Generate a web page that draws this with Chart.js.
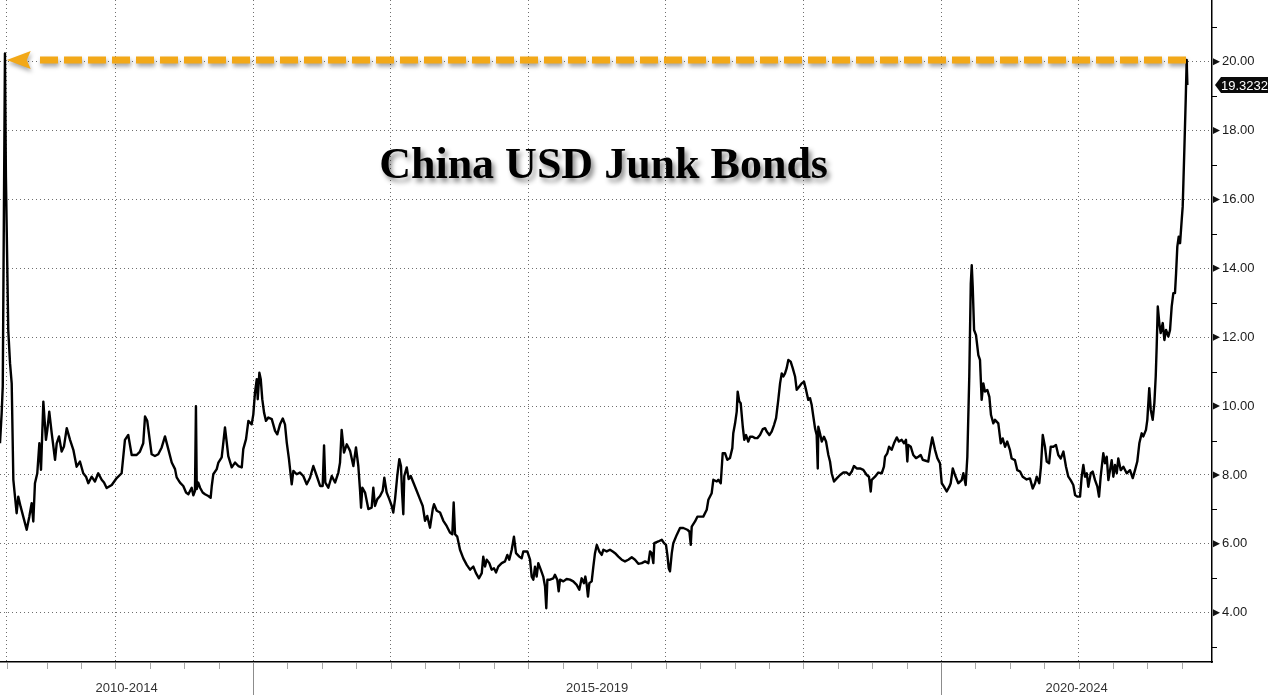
<!DOCTYPE html>
<html lang="en">
<head>
<meta charset="UTF-8">
<title>China USD Junk Bonds</title>
<script src="https://cdn.jsdelivr.net/npm/chart.js"></script>
<style>
    body { margin: 0; padding: 0; background: #fff; }
    #wrap { width: 1268px; height: 695px; }
</style>
</head>
<body>
<div id="wrap"><canvas id="chart" width="1268" height="695"></canvas></div>
<script>
// dates as decimal years, yields in %
const dates = [
    2013.161, 2013.173, 2013.181, 2013.197, 2013.204, 2013.221, 2013.234, 2013.246, 2013.258, 2013.270,
    2013.282, 2013.294, 2013.311, 2013.330, 2013.355, 2013.374, 2013.391, 2013.403, 2013.415, 2013.432,
    2013.447, 2013.459, 2013.476, 2013.495, 2013.505, 2013.519, 2013.537, 2013.561, 2013.573, 2013.590,
    2013.609, 2013.626, 2013.646, 2013.670, 2013.694, 2013.718, 2013.742, 2013.766, 2013.786, 2013.803,
    2013.827, 2013.851, 2013.875, 2013.900, 2013.917, 2013.936, 2013.973, 2014.009, 2014.045, 2014.069,
    2014.093, 2014.118, 2014.154, 2014.178, 2014.202, 2014.215, 2014.231,
    2014.263, 2014.287, 2014.311, 2014.336, 2014.360, 2014.384, 2014.409, 2014.433, 2014.445, 2014.469,
    2014.493, 2014.513, 2014.530, 2014.554, 2014.566, 2014.578, 2014.585, 2014.591, 2014.602, 2014.615,
    2014.634, 2014.651, 2014.675, 2014.692, 2014.700, 2014.711, 2014.736, 2014.748, 2014.772, 2014.784,
    2014.796, 2014.809, 2014.820, 2014.845, 2014.869, 2014.893, 2014.918, 2014.929, 2014.949, 2014.966,
    2014.990, 2015.002, 2015.014, 2015.027, 2015.034, 2015.046, 2015.056, 2015.067, 2015.080, 2015.094,
    2015.111, 2015.136, 2015.160, 2015.176, 2015.196, 2015.216, 2015.232, 2015.245, 2015.261, 2015.281,
    2015.293, 2015.317, 2015.341, 2015.365, 2015.390, 2015.414, 2015.438, 2015.463, 2015.487, 2015.506,
    2015.516, 2015.525, 2015.547, 2015.572, 2015.596, 2015.620, 2015.632, 2015.644, 2015.661, 2015.681,
    2015.705, 2015.729, 2015.748, 2015.765, 2015.777, 2015.785, 2015.794, 2015.814, 2015.838, 2015.862,
    2015.874, 2015.886, 2015.903, 2015.923, 2015.942, 2015.954, 2015.971, 2015.990, 2016.008, 2016.019,
    2016.032, 2016.048, 2016.063, 2016.075, 2016.083, 2016.092, 2016.099, 2016.117, 2016.131, 2016.146,
    2016.165, 2016.189, 2016.213, 2016.233, 2016.250, 2016.266, 2016.286, 2016.306, 2016.315, 2016.335,
    2016.359, 2016.383, 2016.407, 2016.431, 2016.448, 2016.458, 2016.468, 2016.484,
    2016.504, 2016.528, 2016.553, 2016.577, 2016.601, 2016.620, 2016.642, 2016.662, 2016.673, 2016.686,
    2016.698, 2016.717, 2016.734, 2016.751, 2016.766, 2016.782, 2016.807, 2016.831, 2016.848, 2016.862,
    2016.880, 2016.896, 2016.911, 2016.935, 2016.952, 2016.964, 2016.993, 2017.013, 2017.025, 2017.037,
    2017.049, 2017.061, 2017.073, 2017.091, 2017.109, 2017.122, 2017.131, 2017.139, 2017.158, 2017.182,
    2017.194, 2017.211, 2017.221, 2017.231, 2017.255, 2017.279, 2017.303, 2017.327, 2017.352, 2017.371,
    2017.388, 2017.405, 2017.415, 2017.425, 2017.434, 2017.444, 2017.461, 2017.473, 2017.485, 2017.498,
    2017.516, 2017.534, 2017.546, 2017.570, 2017.594, 2017.614, 2017.631, 2017.655, 2017.679, 2017.703,
    2017.727, 2017.752, 2017.776, 2017.800, 2017.825, 2017.849, 2017.873, 2017.885, 2017.897, 2017.909,
    2017.916, 2017.945, 2017.970, 2017.987, 2018.001, 2018.011, 2018.021, 2018.030, 2018.043, 2018.054,
    2018.079, 2018.103, 2018.127, 2018.156, 2018.171, 2018.181, 2018.188, 2018.212, 2018.229, 2018.248,
    2018.272, 2018.297,
    2018.309, 2018.333, 2018.345, 2018.370, 2018.381, 2018.399, 2018.413, 2018.430, 2018.447, 2018.466,
    2018.483, 2018.490, 2018.503, 2018.515, 2018.522, 2018.534, 2018.544, 2018.559, 2018.570, 2018.583,
    2018.599, 2018.612, 2018.631, 2018.648, 2018.665, 2018.684, 2018.704, 2018.721, 2018.733, 2018.752,
    2018.769, 2018.786, 2018.801, 2018.817, 2018.830, 2018.842, 2018.854, 2018.866, 2018.878, 2018.890,
    2018.907, 2018.922, 2018.939, 2018.951, 2018.970, 2018.987, 2019.004, 2019.019, 2019.035, 2019.048,
    2019.060, 2019.072, 2019.084, 2019.096, 2019.104, 2019.108, 2019.120, 2019.133, 2019.149, 2019.164,
    2019.181, 2019.193, 2019.205, 2019.222, 2019.242, 2019.266, 2019.290, 2019.314, 2019.333, 2019.351,
    2019.367, 2019.387, 2019.411, 2019.435, 2019.460, 2019.476, 2019.489, 2019.496, 2019.520, 2019.544,
    2019.569, 2019.585, 2019.593, 2019.609, 2019.622, 2019.641, 2019.658, 2019.678, 2019.694, 2019.714,
    2019.731, 2019.745, 2019.755, 2019.762, 2019.780, 2019.798, 2019.818, 2019.835, 2019.852, 2019.867,
    2019.883, 2019.907, 2019.920, 2019.936, 2019.956, 2019.973, 2019.992, 2020.005, 2020.021, 2020.041,
    2020.060, 2020.070, 2020.085, 2020.101, 2020.125,
    2020.150, 2020.162, 2020.179, 2020.191, 2020.205, 2020.216, 2020.223, 2020.230, 2020.240, 2020.254,
    2020.271, 2020.283, 2020.295, 2020.307, 2020.319, 2020.336, 2020.351, 2020.363, 2020.380, 2020.392,
    2020.416, 2020.434, 2020.448, 2020.465, 2020.481, 2020.501, 2020.513, 2020.537, 2020.554, 2020.574,
    2020.593, 2020.622, 2020.646, 2020.666, 2020.683, 2020.695, 2020.714, 2020.726, 2020.739, 2020.755,
    2020.768, 2020.785, 2020.797, 2020.816, 2020.835, 2020.852, 2020.870, 2020.889, 2020.908, 2020.925,
    2020.942, 2020.961, 2020.974, 2020.990, 2021.010, 2021.022, 2021.034, 2021.046, 2021.059, 2021.070,
    2021.088, 2021.102, 2021.119, 2021.136, 2021.148, 2021.160, 2021.179, 2021.192, 2021.204, 2021.216,
    2021.228, 2021.240, 2021.252, 2021.264, 2021.277, 2021.288, 2021.306, 2021.325, 2021.349, 2021.373,
    2021.393, 2021.410, 2021.426, 2021.441, 2021.458, 2021.470, 2021.489, 2021.499, 2021.513, 2021.524,
    2021.538, 2021.550, 2021.560, 2021.567, 2021.575, 2021.586, 2021.596, 2021.611, 2021.623, 2021.635,
    2021.652, 2021.664, 2021.676, 2021.688, 2021.700, 2021.708, 2021.717, 2021.727, 2021.737, 2021.749,
    2021.756, 2021.761, 2021.768, 2021.778, 2021.785, 2021.790
];
const yields = [
    8.92, 9.79, 10.57, 20.24, 16.66, 12.21, 11.24, 10.66, 7.86, 7.37,
    6.89, 7.37, 7.08, 6.79, 6.41, 6.79, 7.18, 6.65, 7.76, 8.05,
    8.92, 8.15, 10.13, 9.02, 9.31, 9.84, 9.21, 8.44, 8.92, 9.12,
    8.68, 8.83, 9.36, 9.02, 8.73, 8.24, 8.39, 8.05, 7.95, 7.76,
    7.95, 7.81, 8.05, 7.86, 7.78, 7.62, 7.71, 7.91, 8.05, 9.02,
    9.16, 8.58, 8.58, 8.68, 8.92, 9.70, 9.57,
    8.60, 8.55, 8.60, 8.80, 9.12, 8.75, 8.36, 8.17, 7.93, 7.78,
    7.68, 7.49, 7.44, 7.63, 7.41, 7.54, 10.00, 7.59, 7.78, 7.63,
    7.49, 7.44, 7.39, 7.34, 7.68, 8.02, 8.17, 8.36, 8.51, 8.94,
    9.38, 8.94, 8.55, 8.22, 8.36, 8.26, 8.22, 8.75, 9.04, 9.57,
    9.47, 9.76, 10.39, 10.78, 10.20, 10.97, 10.78, 10.20, 9.81, 9.57,
    9.67, 9.62, 9.28, 9.18, 9.47, 9.64, 9.47, 8.94, 8.46, 7.73,
    8.12, 8.02, 8.07, 7.97, 7.73, 7.92, 8.26, 7.97, 7.68, 7.68,
    8.86, 7.78, 7.63, 7.97, 7.78, 8.07, 8.36, 9.31, 8.65, 8.89,
    8.70, 8.26, 8.80, 8.26, 7.59, 7.05, 7.63, 7.49, 7.01, 7.05,
    7.63, 7.10, 7.30, 7.39, 7.54, 7.92, 7.49, 7.30, 7.10, 6.91,
    7.30, 7.97, 8.46, 8.26, 7.49, 6.86, 7.97, 8.22, 7.88, 7.97,
    7.78, 7.54, 7.30, 7.10, 6.67, 6.81, 6.47, 7.01, 7.15, 6.96,
    6.91, 6.67, 6.52, 6.33, 6.28, 7.20, 6.28, 6.21,
    5.83, 5.58, 5.39, 5.25, 5.34, 5.15, 5.00, 5.15, 5.63, 5.34,
    5.54, 5.44, 5.25, 5.29, 5.17, 5.34, 5.44, 5.49, 5.68, 5.54,
    5.83, 6.21, 5.73, 5.63, 5.58, 5.78, 5.78, 5.54, 5.05, 4.96,
    5.34, 5.05, 5.44, 5.25, 5.05, 4.76, 4.13, 4.96, 4.96, 5.00,
    5.10, 4.96, 4.62, 4.96, 4.91, 4.98, 4.96, 4.91, 4.81, 4.67,
    5.00, 4.86, 5.05, 4.81, 4.47, 4.86, 4.91, 5.34, 5.73, 5.97,
    5.78, 5.68, 5.83, 5.78, 5.83, 5.78, 5.73, 5.63, 5.54, 5.49,
    5.54, 5.61, 5.54, 5.42, 5.44, 5.49, 5.44, 5.78, 5.73, 5.44,
    6.02, 6.07, 6.12, 6.02, 5.97, 5.68, 5.29, 5.20, 5.73, 6.02,
    6.26, 6.46, 6.46, 6.41, 6.36, 5.97, 6.50, 6.65, 6.79, 6.79,
    6.79, 6.99,
    7.28, 7.47, 7.86, 7.81, 7.86, 7.76, 8.63, 8.63, 8.44, 8.49,
    8.78, 9.21, 9.50, 9.84, 10.42, 10.13, 10.08, 9.40, 9.02, 9.16,
    8.97, 9.11, 9.11, 9.07, 9.07, 9.16, 9.33, 9.36, 9.26, 9.16,
    9.26, 9.45, 9.65, 10.18, 10.66, 10.95, 10.86, 10.95, 11.10, 11.34,
    11.29, 11.10, 10.86, 10.47, 10.57, 10.66, 10.71, 10.47, 10.18, 10.23,
    10.03, 9.69, 9.36, 9.16, 8.19, 9.40, 9.21, 8.97, 9.11, 8.97,
    8.58, 8.39, 8.05, 7.81, 7.90, 8.00, 8.07, 8.07, 8.00, 8.10,
    8.26, 8.19, 8.19, 8.15, 8.00, 7.95, 7.52, 7.86, 7.95, 8.07,
    8.05, 8.24, 8.53, 8.63, 8.82, 8.73, 8.92, 9.09, 8.97, 9.02,
    8.92, 9.02, 8.39, 8.87, 8.82, 8.58, 8.49, 8.53, 8.58, 8.44,
    8.42, 8.39, 8.73, 9.09, 8.73, 8.49, 8.34, 7.76, 7.66, 7.52,
    7.66, 7.76, 8.19, 8.00, 7.76,
    7.85, 8.05, 7.71, 8.53, 10.85, 13.56, 14.09, 13.47, 12.21, 12.06,
    11.48, 11.34, 10.18, 10.66, 10.42, 10.47, 10.27, 9.74, 9.50, 9.60,
    9.50, 8.92, 9.06, 8.82, 8.97, 8.72, 8.48, 8.43, 8.14, 8.10,
    7.95, 7.87, 7.90, 7.61, 7.76, 7.95, 7.76, 8.24, 9.16, 8.82,
    8.39, 8.34, 8.82, 8.82, 8.87, 8.58, 8.48, 8.68, 8.24, 7.95,
    7.85, 7.71, 7.42, 7.37, 7.37, 7.95, 8.29, 7.95, 8.05, 7.66,
    8.05, 8.10, 7.85, 7.66, 7.37, 7.95, 8.63, 8.34, 8.53, 7.85,
    8.14, 8.43, 7.95, 8.29, 8.05, 8.48, 8.14, 8.24, 8.05, 8.14,
    7.91, 8.15, 8.39, 8.92, 9.21, 9.12, 9.31, 9.60, 10.52, 9.89,
    9.60, 10.08, 10.86, 11.73, 12.89, 12.41, 12.12, 12.41, 11.92, 12.21,
    12.02, 12.21, 12.89, 13.28, 13.28, 13.86, 14.63, 14.92, 14.73, 15.41,
    15.79, 16.47, 17.44, 18.89, 20.05, 19.3232
];

const xRange = [2013.161, 2021.969];
const yRange = [2.57, 21.79];
const yLabelTicks = [4, 6, 8, 10, 12, 14, 16, 18, 20];
const yMinorTicks = [3, 5, 7, 9, 11, 13, 15, 17, 19, 21];
const xGridTicks = [2013.21, 2014, 2015, 2016, 2017, 2018, 2019, 2020, 2021];
const periodLabels = ['2010-2014', '2015-2019', '2020-2024'];
const periodBreaks = [2015, 2020];
const titleText = 'China USD Junk Bonds';
const lastValue = 19.3232;
const arrowLevel = 20.05;
const arrowFrom = 2013.21;
const arrowTo = 2021.78;

const points = dates.map((d, i) => ({ x: d, y: yields[i] }));

// quarterly minor ticks under the x axis
const xMinorTicks = [2013.21];
for (let q = 2013.5; q < xRange[1]; q += 0.25) xMinorTicks.push(q);

function noPad(s) {
    s.paddingTop = 0;
    s.paddingBottom = 0;
    s.paddingLeft = 0;
    s.paddingRight = 0;
}

const decor = {
    id: 'decor',
    afterDatasetsDraw(chart) {
        const { ctx, scales: { x, y } } = chart;
        const ay = y.getPixelForValue(arrowLevel);
        const tip = x.getPixelForValue(arrowFrom);
        const end = x.getPixelForValue(arrowTo);
        ctx.save();
        ctx.shadowColor = 'rgba(0,0,0,0.35)';
        ctx.shadowBlur = 4;
        ctx.shadowOffsetX = 1;
        ctx.shadowOffsetY = 3;
        ctx.strokeStyle = '#f2a818';
        ctx.fillStyle = '#f2a818';
        ctx.lineWidth = 7;
        ctx.setLineDash([18, 6]);
        ctx.beginPath();
        ctx.moveTo(end, ay);
        ctx.lineTo(tip + 30, ay);
        ctx.stroke();
        ctx.setLineDash([]);
        ctx.beginPath();
        ctx.moveTo(tip, ay);
        ctx.lineTo(tip + 24, ay - 9);
        ctx.lineTo(tip + 20, ay);
        ctx.lineTo(tip + 24, ay + 9);
        ctx.closePath();
        ctx.fill();
        ctx.restore();
    },
    afterDraw(chart) {
        const { ctx, chartArea: a, scales: { x, y } } = chart;
        ctx.save();

        // x minor ticks
        ctx.strokeStyle = '#a8a8a8';
        ctx.lineWidth = 1;
        xMinorTicks.forEach(v => {
            const px = Math.round(x.getPixelForValue(v)) + 0.5;
            ctx.beginPath();
            ctx.moveTo(px, a.bottom + 1);
            ctx.lineTo(px, a.bottom + 7);
            ctx.stroke();
        });

        // period separators
        ctx.strokeStyle = '#8c8c8c';
        periodBreaks.forEach(v => {
            const px = Math.round(x.getPixelForValue(v)) + 0.5;
            ctx.beginPath();
            ctx.moveTo(px, a.bottom);
            ctx.lineTo(px, chart.height);
            ctx.stroke();
        });

        // period labels
        const edges = [xRange[0], ...periodBreaks, xRange[1]];
        ctx.fillStyle = '#333';
        ctx.font = '13px "Liberation Sans", Arial, sans-serif';
        ctx.textAlign = 'center';
        ctx.textBaseline = 'middle';
        periodLabels.forEach((lab, i) => {
            const cx = (x.getPixelForValue(edges[i]) + x.getPixelForValue(edges[i + 1])) / 2;
            ctx.fillText(lab, cx, a.bottom + 26);
        });

        // y minor ticks and arrow markers
        ctx.strokeStyle = '#000';
        yMinorTicks.forEach(v => {
            const py = Math.round(y.getPixelForValue(v)) + 0.5;
            ctx.beginPath();
            ctx.moveTo(a.right, py);
            ctx.lineTo(a.right + 5, py);
            ctx.stroke();
        });
        ctx.fillStyle = '#111';
        yLabelTicks.forEach(v => {
            const py = y.getPixelForValue(v);
            ctx.beginPath();
            ctx.moveTo(a.right + 1, py - 3.5);
            ctx.lineTo(a.right + 8, py);
            ctx.lineTo(a.right + 1, py + 3.5);
            ctx.closePath();
            ctx.fill();
        });

        // last value tag
        const ly = y.getPixelForValue(lastValue);
        ctx.fillStyle = '#0a0a0a';
        ctx.beginPath();
        ctx.moveTo(a.right + 3, ly);
        ctx.lineTo(a.right + 9, ly - 8);
        ctx.lineTo(chart.width, ly - 8);
        ctx.lineTo(chart.width, ly + 8);
        ctx.lineTo(a.right + 9, ly + 8);
        ctx.closePath();
        ctx.fill();
        ctx.fillStyle = '#fff';
        ctx.textAlign = 'left';
        ctx.fillText(lastValue.toFixed(4), a.right + 9, ly + 1);

        // title
        ctx.font = 'bold 44px "Liberation Serif", "Times New Roman", serif';
        ctx.textAlign = 'center';
        ctx.textBaseline = 'alphabetic';
        ctx.shadowColor = 'rgba(0,0,0,0.45)';
        ctx.shadowBlur = 5;
        ctx.shadowOffsetX = 3;
        ctx.shadowOffsetY = 4;
        ctx.fillStyle = '#000';
        ctx.fillText(titleText, a.left + a.width * 0.498, 178);
        ctx.restore();
    }
};

new Chart(document.getElementById('chart'), {
    type: 'line',
    data: {
        datasets: [{
            data: points,
            borderColor: '#000',
            borderWidth: 2.4,
            borderJoinStyle: 'round',
            pointRadius: 0,
            tension: 0
        }]
    },
    options: {
        responsive: false,
        animation: false,
        devicePixelRatio: 1,
        layout: { padding: 0 },
        scales: {
            x: {
                type: 'linear',
                min: xRange[0],
                max: xRange[1],
                afterBuildTicks: s => { s.ticks = xGridTicks.map(v => ({ value: v })); },
                afterFit: s => { s.height = 33; noPad(s); },
                ticks: { display: false },
                grid: { color: '#6e6e6e', lineWidth: 1, drawTicks: false },
                border: { color: '#000', width: 1.5, dash: [1, 3] }
            },
            y: {
                position: 'right',
                min: yRange[0],
                max: yRange[1],
                afterBuildTicks: s => { s.ticks = yLabelTicks.map(v => ({ value: v })); },
                afterFit: s => { s.width = 56; noPad(s); },
                ticks: {
                    padding: 10,
                    color: '#1a1a1a',
                    font: { family: '"Liberation Sans", Arial, sans-serif', size: 13 },
                    callback: v => v.toFixed(2)
                },
                grid: { color: '#6e6e6e', lineWidth: 1, drawTicks: false },
                border: { color: '#000', width: 1.5, dash: [1, 3] }
            }
        },
        plugins: {
            legend: { display: false },
            tooltip: { enabled: false }
        }
    },
    plugins: [decor]
});
</script>
</body>
</html>
